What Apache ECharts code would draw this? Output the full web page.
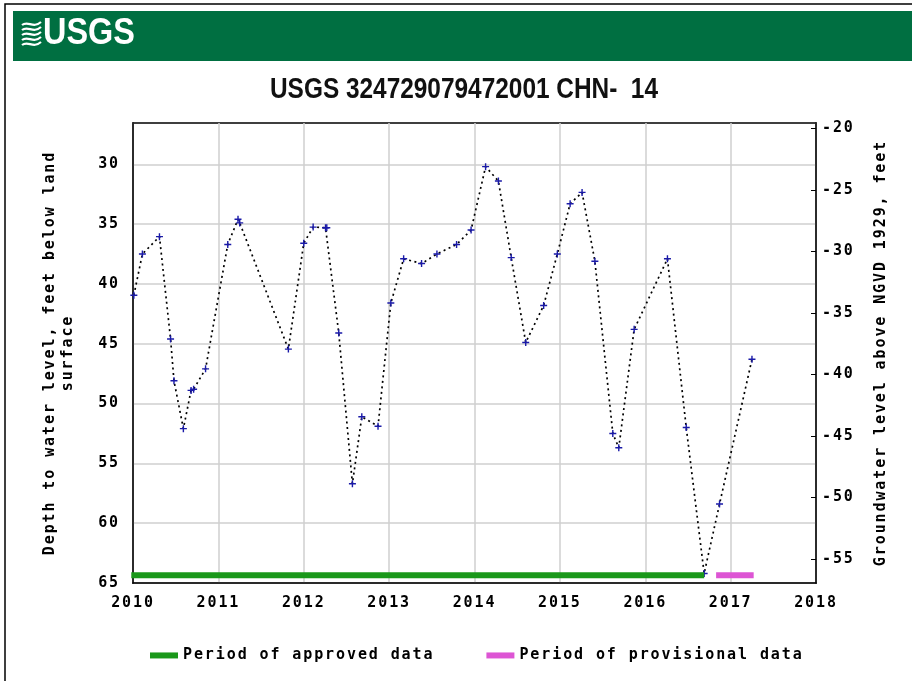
<!DOCTYPE html>
<html>
<head>
<meta charset="utf-8">
<script src="https://cdn.jsdelivr.net/npm/echarts@6/dist/echarts.min.js"></script>
<style>
html,body{margin:0;padding:0;background:#fff;}
#chart{width:912px;height:681px;}
</style>
</head>
<body>
<div id="chart"></div>
<script>
// ---- data ----
const titleText = 'USGS 324729079472001 CHN-  14';
const leftAxisName = 'Depth to water level, feet below land\nsurface';
const rightAxisName = 'Groundwater level above NGVD 1929, feet';
const years = [2010.01, 2010.11, 2010.31, 2010.44, 2010.48, 2010.59, 2010.68, 2010.71, 2010.85,
  2011.11, 2011.23, 2011.25, 2011.82, 2012.00, 2012.11, 2012.255, 2012.27, 2012.41, 2012.57,
  2012.68, 2012.87, 2013.02, 2013.17, 2013.38, 2013.56, 2013.79, 2013.96, 2014.13, 2014.28,
  2014.43, 2014.60, 2014.81, 2014.97, 2015.12, 2015.26, 2015.41, 2015.62, 2015.69, 2015.87,
  2016.26, 2016.48, 2016.69, 2016.87, 2017.25];
const depths = [40.95, 37.5, 36.05, 44.6, 48.1, 52.1, 48.9, 48.8, 47.1,
  36.7, 34.6, 34.9, 45.45, 36.6, 35.25, 35.3, 35.3, 44.1, 56.7,
  51.1, 51.9, 41.6, 37.9, 38.3, 37.5, 36.7, 35.5, 30.2, 31.4,
  37.8, 44.9, 41.8, 37.5, 33.3, 32.35, 38.1, 52.5, 53.7, 43.8,
  37.9, 52.0, 64.2, 58.4, 46.3];
const periodNames = ['Period of approved data', 'Period of provisional data'];
const approvedPeriod = [2009.98, 2016.69];
const provisionalPeriod = [2016.83, 2017.27];
const periodBarDepth = 64.36;
const leftTicks = [30, 35, 40, 45, 50, 55, 60, 65];
const rightTicks = [-20, -25, -30, -35, -40, -45, -50, -55];
const xMin = 2010, xMax = 2018;
const leftRange = [26.55, 65];
const rightRange = [-56.95, -19.56];

// ---- wide monospace look: add letter spacing to the mono text only ----
(function () {
  const P = CanvasRenderingContext2D.prototype;
  const sp = ctx => (/DejaVu Sans Mono/.test(ctx.font) ? '1.9px' : '0px');
  ['fillText', 'strokeText', 'measureText'].forEach(fn => {
    const orig = P[fn];
    P[fn] = function () { try { this.letterSpacing = sp(this); } catch (e) {} return orig.apply(this, arguments); };
  });
})();

// ---- chart ----
const mono = '"DejaVu Sans Mono", monospace';
const chart = echarts.init(document.getElementById('chart'));

function textWidth(text, font) {
  const c = document.createElement('canvas').getContext('2d');
  c.font = font;
  return c.measureText(text).width;
}
const titleFont = 'bold 29px "Liberation Sans", Arial, sans-serif';
const titleScale = 388 / textWidth(titleText, titleFont);

const waterData = years.map((y, i) => [y, depths[i]]);
const plus = 'path://M2,0L3,0L3,2L5,2L5,3L3,3L3,5L2,5L2,3L0,3L0,2L2,2Z';

const labelStyle = { fontFamily: mono, fontWeight: 'bold', fontSize: 15, color: '#000' };

function wave(y0) {
  return { type: 'bezierCurve', z: 5, shape: { x1: 0, y1: y0 + 2, cpx1: 6, cpy1: y0 - 3, cpx2: 11, cpy2: y0 + 6, x2: 19, y2: y0 - 1 },
    style: { fill: 'none', stroke: '#fff', lineWidth: 2.2 } };
}

chart.setOption({
  animation: false,
  backgroundColor: '#fff',
  grid: { left: 133, right: 96, top: 123, bottom: 98, show: true, borderColor: '#000', borderWidth: 1.5, backgroundColor: 'transparent' },
  legend: {
    data: periodNames,
    left: 150, top: 647, padding: 0,
    icon: 'rect', itemWidth: 28, itemHeight: 6, itemGap: 52,
    textStyle: { fontFamily: mono, fontWeight: 'bold', fontSize: 15, color: '#000' },
    selectedMode: false
  },
  xAxis: {
    type: 'value', min: xMin, max: xMax, interval: 1,
    axisLine: { show: true, lineStyle: { color: '#000', width: 1.5 } },
    axisTick: { show: false },
    axisLabel: Object.assign({ margin: 12, formatter: v => String(v) }, labelStyle),
    splitLine: { show: true, lineStyle: { color: '#cfcfcf', width: 1.5 } }
  },
  yAxis: [{
    type: 'value', inverse: true, min: leftRange[0], max: leftRange[1],
    position: 'left',
    name: leftAxisName, nameLocation: 'middle', nameGap: 56,
    nameTextStyle: { fontFamily: mono, fontWeight: 'bold', fontSize: 15, color: '#000', lineHeight: 18, align: 'center' },
    axisLine: { show: true, lineStyle: { color: '#000', width: 1.5 } },
    axisTick: { show: false, customValues: leftTicks },
    axisLabel: Object.assign({ margin: 13, customValues: leftTicks }, labelStyle),
    splitLine: { show: true, lineStyle: { color: '#cfcfcf', width: 1.5 } }
  }, {
    type: 'value', min: rightRange[0], max: rightRange[1],
    position: 'right',
    name: rightAxisName, nameLocation: 'middle', nameGap: 57,
    nameTextStyle: { fontFamily: mono, fontWeight: 'bold', fontSize: 15, color: '#000' },
    axisLine: { show: true, lineStyle: { color: '#000', width: 1.5 } },
    axisTick: { show: true, inside: true, length: 5, customValues: rightTicks, lineStyle: { color: '#000', width: 1 } },
    axisLabel: Object.assign({ margin: 6, customValues: rightTicks }, labelStyle),
    splitLine: { show: false }
  }],
  series: [{
    name: 'Water level',
    type: 'line',
    yAxisIndex: 0,
    data: waterData,
    symbol: plus, symbolSize: 7,
    itemStyle: { color: '#1a1aa8' },
    lineStyle: { color: '#000', width: 1.7, type: [2, 3.5] },
    z: 3
  }, {
    name: periodNames[0],
    type: 'line', yAxisIndex: 0,
    data: [[approvedPeriod[0], periodBarDepth], [approvedPeriod[1], periodBarDepth]],
    symbol: 'none', color: '#1a981a',
    lineStyle: { color: '#1a981a', width: 6, cap: 'butt' },
    itemStyle: { color: '#1a981a' },
    z: 4
  }, {
    name: periodNames[1],
    type: 'line', yAxisIndex: 0,
    data: [[provisionalPeriod[0], periodBarDepth], [provisionalPeriod[1], periodBarDepth]],
    symbol: 'none', color: '#dd55d4',
    lineStyle: { color: '#dd55d4', width: 6, cap: 'butt' },
    itemStyle: { color: '#dd55d4' },
    z: 4
  }],
  graphic: [
    { type: 'rect', shape: { x: 5, y: 4, width: 930, height: 700 }, style: { fill: 'none', stroke: '#000', lineWidth: 1.5 }, z: 0, silent: true },
    { type: 'rect', shape: { x: 13, y: 11, width: 905, height: 50 }, style: { fill: '#006f41' }, z: 1, silent: true },
    { type: 'group', x: 22, y: 21, z: 5, children: [wave(2), wave(7), wave(12), wave(17), wave(22)] },
    { type: 'text', x: 43, y: 34, z: 5, scaleX: 0.9, style: { text: 'USGS', font: 'bold 36px "Liberation Sans", Arial, sans-serif', fill: '#fff', textVerticalAlign: 'middle', textAlign: 'left' } },
    { type: 'group', x: 464, y: 90, scaleX: titleScale, z: 5, children: [
      { type: 'text', x: 0, y: 0, z: 5, style: { text: titleText, font: titleFont, fill: '#111', textAlign: 'center', textVerticalAlign: 'middle' } }
    ] }
  ]
});
</script>
</body>
</html>
